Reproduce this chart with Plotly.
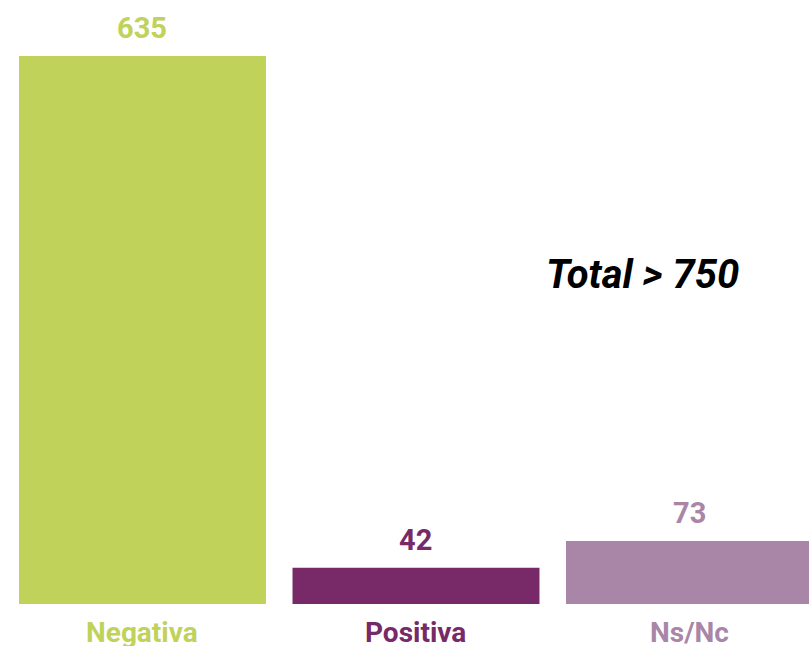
import plotly.graph_objects as go

categories = ["Negativa", "Positiva", "Ns/Nc"]
values = [635, 42, 73]
colors = ["#C0D25A", "#782A68", "#A986A7"]
total_text = "Total > 750"

W, H = 809, 646
PLOT_H = 604
fig = go.Figure()
fig.add_trace(go.Bar(
    x=list(range(len(categories))), y=values,
    marker=dict(color=colors, line=dict(width=0)),
    width=0.903, hoverinfo="skip",
))

for i, (c, v, col) in enumerate(zip(categories, values, colors)):
    fig.add_annotation(x=i, y=v, text=f"<b>{v}</b>", showarrow=False,
                       xref="x", yref="y", yanchor="bottom", yshift=9,
                       font=dict(family="Roboto", size=29, color=col))
    fig.add_annotation(x=i, y=0, text=f"<b>{c}</b>", showarrow=False,
                       xref="x", yref="y", yanchor="top", yshift=-10,
                       font=dict(family="Roboto", size=28, color=col))

fig.add_annotation(x=642 / W, y=1 - 274 / PLOT_H, xref="paper", yref="paper",
                   text=f"<b><i>{total_text}</i></b>", showarrow=False,
                   xanchor="center", yanchor="middle",
                   font=dict(family="Roboto", size=40, color="#000000"))

fig.update_layout(
    width=W, height=H,
    margin=dict(l=0, r=0, t=0, b=H - PLOT_H),
    paper_bgcolor="white", plot_bgcolor="white",
    showlegend=False,
    hovermode=False,
    xaxis=dict(range=[-0.521, 2.437], showticklabels=False, showgrid=False,
               zeroline=False, showline=False, ticks=""),
    yaxis=dict(range=[0, 700], visible=False, showgrid=False, zeroline=False),
)
fig.write_html("out.html",
               config={"displayModeBar": False},
               post_script="document.body.style.margin='0';document.body.style.overflow='hidden';")
